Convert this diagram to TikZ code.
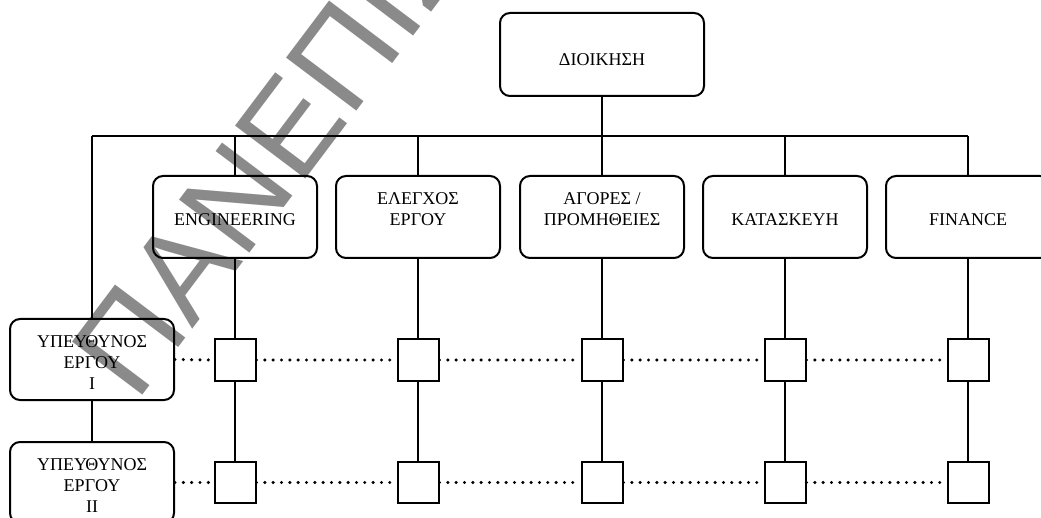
\documentclass[tikz,border=0pt]{standalone}
\usepackage{fontspec}
\setmainfont{Liberation Serif}
\newfontfamily\stampfont{Liberation Sans}
\definecolor{stampgray}{RGB}{138,138,138}
\begin{document}
\begin{tikzpicture}[x=1pt, y=-1pt,
  box/.style={draw, rounded corners=10pt, line width=2pt, minimum width=164pt, minimum height=82pt, inner sep=0pt},
  cell/.style={draw, line width=2pt, minimum size=41pt, inner sep=0pt},
  link/.style={line width=1.6pt},
  dots/.style={line width=3.4pt, line cap=round, dash pattern=on 0pt off 8.33pt},
  lbl/.style={align=center, inner sep=0pt, anchor=north, font=\fontsize{18pt}{21pt}\selectfont},
  stamp/.style={anchor=base west, inner sep=0pt, text=stampgray, font=\stampfont\fontsize{128pt}{128pt}\selectfont}]
\useasboundingbox (0,0) rectangle (1041,518);
\clip (0,0) rectangle (1041,518);

% background stamp
\begin{scope}[shift={(136.8,403.5)}]
  \node[stamp, rotate=53] (stamp) at (0,0) {ΠΑΝΕΠΙΣΤΗΜΙΟ};
\end{scope}

% top management
\node[box, minimum width=204pt, minimum height=83pt] (top) at (602,54.5) {};
\node[lbl] (topt) at (602,53) {ΔΙΟΙΚΗΣΗ};

% department boxes
\node[box] (eng) at (235,217) {};
\node[box] (ctl) at (418,217) {};
\node[box] (buy) at (602,217) {};
\node[box] (con) at (785,217) {};
\node[box] (fin) at (968,217) {};
\node[lbl] (engt) at (235,213.5) {ENGINEERING};
\node[lbl] (ctlt) at (418,192.5) {ΕΛΕΓΧΟΣ\\ΕΡΓΟΥ};
\node[lbl] (buyt) at (602,192.5) {ΑΓΟΡΕΣ /\\ΠΡΟΜΗΘΕΙΕΣ};
\node[lbl] (cont) at (785,213.5) {ΚΑΤΑΣΚΕΥΗ};
\node[lbl] (fint) at (968,213.5) {FINANCE};

% project managers
\node[box, minimum height=81pt] (pm1) at (92,359.5) {};
\node[box, minimum height=81pt] (pm2) at (92,482.5) {};
\node[lbl] (pm1t) at (92,335) {ΥΠΕΥΘΥΝΟΣ\\ΕΡΓΟΥ\\I};
\node[lbl] (pm2t) at (92,458) {ΥΠΕΥΘΥΝΟΣ\\ΕΡΓΟΥ\\II};

% matrix cells
\foreach \c/\x in {1/235, 2/418, 3/602, 4/785, 5/968} {
  \node[cell] (a\c) at (\x,360) {};
  \node[cell] (b\c) at (\x,482.5) {};
}

% main bus
\coordinate (busL) at (92,136);
\coordinate (busR) at (968,136);
\draw[link] (busL) -- (busR);
\draw[link] (top.south) -- (top.south |- busL);
\foreach \n in {eng, ctl, buy, con, fin}
  \draw[link] (\n.north) -- (\n.north |- busL);
\draw[link] (busL) -- (pm1.north);
\draw[link] (pm1.south) -- (pm2.north);

% department columns
\foreach \n/\c in {eng/1, ctl/2, buy/3, con/4, fin/5} {
  \draw[link] (\n.south) -- (a\c.north);
  \draw[link] (a\c.south) -- (b\c.north);
}

% project rows
\draw[dots] (pm1.east) -- (a1.west);
\draw[dots] (pm2.east) -- (b1.west);
\foreach \p/\q in {1/2, 2/3, 3/4, 4/5} {
  \draw[dots] (a\p.east) -- (a\q.west);
  \draw[dots] (b\p.east) -- (b\q.west);
}
\end{tikzpicture}
\end{document}
